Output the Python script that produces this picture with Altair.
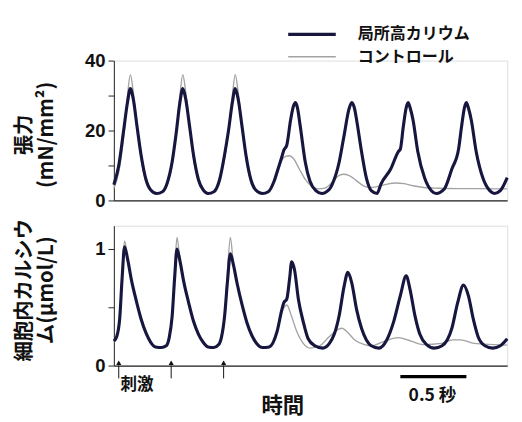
import altair as alt
import pandas as pd

SERIES = ["局所高カリウム", "コントロール"]
COLORS = ["#16163f", "#a3a3a3"]
WIDTHS = [3.2, 1.4]

# ---- tension (mN/mm^2) ----
ten_t_k = [0.000, 0.037, 0.074, 0.103, 0.125, 0.147, 0.176, 0.206, 0.243, 0.279, 0.324, 0.368,
           0.404, 0.441, 0.471, 0.500, 0.522, 0.544, 0.574, 0.603, 0.640, 0.676, 0.713, 0.757,
           0.801, 0.838, 0.868, 0.897, 0.919, 0.941, 0.971, 1.000, 1.037, 1.074, 1.125,
           1.169, 1.213, 1.243, 1.272, 1.287, 1.309, 1.338, 1.360, 1.375, 1.390, 1.412, 1.449, 1.485, 1.529, 1.574,
           1.632, 1.654, 1.706, 1.743, 1.779, 1.801, 1.824, 1.838, 1.875, 1.912, 1.949, 1.993,
           2.022, 2.096, 2.154, 2.169, 2.191, 2.213, 2.228, 2.243, 2.265, 2.301, 2.353, 2.404, 2.441,
           2.500, 2.559, 2.610, 2.632, 2.654, 2.669, 2.684, 2.706, 2.743, 2.794, 2.846, 2.882, 2.926, 2.978]
ten_k = [4.5, 10, 20, 28, 32, 29, 21, 13, 6, 3, 2, 2.5,
         5, 11, 19, 28, 32, 29, 21, 13, 6, 3, 2, 2.5,
         6, 13, 20, 28, 32, 29, 21, 13, 6, 3, 2,
         2.5, 5.5, 9, 12.5, 14.4, 15.8, 23, 27, 28, 26.5, 21, 11, 5.5, 2.8, 2,
         3.2, 4.7, 11, 18.6, 26, 28, 26, 23, 14, 6.4, 2.8, 2,
         4.7, 9, 14, 14.7, 21, 26.5, 28, 26.5, 23, 14, 6.4, 2.8, 2,
         3.2, 9, 14.7, 21, 26.5, 28, 26.5, 23, 14, 6.4, 2.8, 2, 2.8, 6.5]

ten_t_c = [0.000, 0.037, 0.074, 0.103, 0.125, 0.147, 0.176, 0.206, 0.243, 0.279, 0.324, 0.368,
           0.404, 0.441, 0.471, 0.500, 0.522, 0.544, 0.574, 0.603, 0.640, 0.676, 0.713, 0.757,
           0.801, 0.838, 0.868, 0.897, 0.919, 0.941, 0.971, 1.000, 1.037, 1.074, 1.125,
           1.169, 1.213, 1.243, 1.272, 1.301, 1.331, 1.360, 1.404, 1.449, 1.500, 1.551,
           1.603, 1.654, 1.699, 1.735, 1.779, 1.838, 1.890, 1.934, 1.985, 2.059, 2.132,
           2.199, 2.265, 2.346, 2.456, 2.603, 2.750, 2.978]
ten_c = [3.5, 8, 18, 30, 36, 31, 21, 12, 5.5, 3, 2, 2.5,
         4.5, 10, 19, 30, 36, 31, 21, 12, 5.5, 3, 2, 2.5,
         5.5, 12, 20, 30, 36, 31, 21, 12, 5.5, 3, 2,
         2.5, 5.5, 8.5, 11.5, 12.6, 12.8, 12, 9, 6, 4, 3.3,
         3.6, 5.2, 7, 7.5, 7.2, 5.6, 4.2, 3.7, 3.9, 4.6, 5,
         4.8, 4.2, 3.7, 3.5, 3.4, 3.4, 3.3]

# ---- intracellular calcium (umol/L) ----
ca_t_k = [0.000, 0.022, 0.044, 0.0625, 0.081, 0.103, 0.132, 0.169, 0.206, 0.243, 0.279, 0.316, 0.360,
          0.397, 0.419, 0.441, 0.460, 0.478, 0.500, 0.529, 0.566, 0.603, 0.640, 0.676, 0.713, 0.757,
          0.794, 0.816, 0.838, 0.860, 0.882, 0.904, 0.934, 0.971, 1.007, 1.044, 1.081, 1.125,
          1.176, 1.235, 1.272, 1.287, 1.309, 1.331, 1.346, 1.368, 1.397, 1.434, 1.471, 1.522, 1.581,
          1.632, 1.669, 1.706, 1.743, 1.772, 1.801, 1.838, 1.875, 1.912, 1.949, 2.007,
          2.066, 2.118, 2.169, 2.213, 2.243, 2.279, 2.316, 2.368, 2.426,
          2.485, 2.559, 2.603, 2.647, 2.684, 2.721, 2.757, 2.809, 2.868, 2.926, 2.978]
ca_k = [0.21, 0.25, 0.40, 0.75, 1.02, 0.92, 0.74, 0.56, 0.40, 0.28, 0.20, 0.16, 0.155,
        0.17, 0.24, 0.42, 0.75, 1.00, 0.90, 0.72, 0.54, 0.38, 0.27, 0.20, 0.16, 0.155,
        0.18, 0.25, 0.42, 0.72, 0.96, 0.87, 0.70, 0.52, 0.37, 0.26, 0.19, 0.155,
        0.16, 0.29, 0.48, 0.54, 0.57, 0.75, 0.89, 0.82, 0.57, 0.375, 0.23, 0.17, 0.15,
        0.19, 0.27, 0.43, 0.68, 0.80, 0.71, 0.48, 0.32, 0.22, 0.17, 0.15,
        0.22, 0.375, 0.60, 0.77, 0.65, 0.43, 0.27, 0.18, 0.15,
        0.17, 0.32, 0.54, 0.69, 0.60, 0.40, 0.25, 0.17, 0.15, 0.17, 0.23]

ca_t_c = [0.000, 0.022, 0.044, 0.0625, 0.081, 0.103, 0.132, 0.169, 0.206, 0.243, 0.279, 0.316, 0.360,
          0.397, 0.419, 0.441, 0.460, 0.478, 0.500, 0.529, 0.566, 0.603, 0.640, 0.676, 0.713, 0.757,
          0.794, 0.816, 0.838, 0.860, 0.882, 0.904, 0.934, 0.971, 1.007, 1.044, 1.081, 1.125,
          1.176, 1.235, 1.272, 1.309, 1.346, 1.382, 1.434, 1.485, 1.559,
          1.632, 1.699, 1.728, 1.765, 1.824, 1.897, 1.949, 2.051, 2.154, 2.250, 2.346,
          2.478, 2.566, 2.625, 2.728, 2.875, 2.978]
ca_c = [0.20, 0.24, 0.40, 0.78, 1.07, 0.93, 0.74, 0.56, 0.40, 0.28, 0.20, 0.16, 0.155,
        0.17, 0.24, 0.42, 0.80, 1.10, 0.91, 0.72, 0.54, 0.38, 0.27, 0.20, 0.16, 0.155,
        0.18, 0.25, 0.42, 0.80, 1.10, 0.88, 0.70, 0.52, 0.37, 0.26, 0.19, 0.155,
        0.16, 0.29, 0.46, 0.52, 0.42, 0.30, 0.19, 0.15, 0.17,
        0.25, 0.31, 0.32, 0.29, 0.22, 0.18, 0.17, 0.21, 0.24, 0.21, 0.18,
        0.19, 0.22, 0.22, 0.19, 0.18, 0.175]

# ---- annotations ----
stim_times = [0.037, 0.434, 0.831]
stim_label = "刺激"
scale_bar = [2.169, 2.669]
scale_label = "0.5 秒"
time_label = "時間"

X_DOMAIN = [0, 2.978]
W, H = 405, 144

def frame(ts, vs, name):
    return pd.DataFrame({"t": ts, "v": vs, "s": name})

ten_df = pd.concat([frame(ten_t_c, ten_c, SERIES[1]), frame(ten_t_k, ten_k, SERIES[0])])
ca_df = pd.concat([frame(ca_t_c, ca_c, SERIES[1]), frame(ca_t_k, ca_k, SERIES[0])])

xenc = alt.X("t:Q", scale=alt.Scale(domain=X_DOMAIN, nice=False, zero=False),
             axis=alt.Axis(title=None, labels=False, ticks=False, grid=False,
                           domainColor="#222", domainWidth=1.3))

legend_opts = dict(title=None, orient="none", legendX=192, legendY=-39,
                   symbolType="M-2.45,0H2.45", symbolSize=400,
                   labelFont="Noto Sans CJK JP", labelFontSize=16.5,
                   labelFontWeight="bold", labelColor="#111",
                   labelOffset=35, rowPadding=3)
color = alt.Color("s:N", scale=alt.Scale(domain=SERIES, range=COLORS),
                  legend=alt.Legend(**legend_opts))
swidth = alt.StrokeWidth("s:N", scale=alt.Scale(domain=SERIES, range=WIDTHS),
                         legend=alt.Legend(**legend_opts))

yaxis_common = dict(grid=False, tickSize=6, labelFont="Liberation Sans", labelFontSize=19,
                    labelFontWeight="bold", labelColor="#111", labelPadding=3,
                    domainColor="#222", tickColor="#222",
                    titleFont="Noto Sans CJK JP", titleFontSize=21, titleFontWeight="bold",
                    titleColor="#111", titleAngle=-90, titleAlign="center",
                    titleBaseline="bottom", titleLineHeight=23)

top = alt.Chart(ten_df).mark_line(interpolate="monotone").encode(
    x=xenc,
    y=alt.Y("v:Q", scale=alt.Scale(domain=[0, 40], nice=False),
            axis=alt.Axis(values=[0, 10, 20, 30, 40],
                          labelExpr="datum.value % 20 == 0 ? datum.label : ''",
                          title=["張力", "(mN/mm²)"], titleX=-82, titleY=76,
                          **yaxis_common)),
    color=color,
    strokeWidth=swidth,
).properties(width=W, height=H)

ca_lines = alt.Chart(ca_df).mark_line(interpolate="monotone").encode(
    x=xenc,
    y=alt.Y("v:Q", scale=alt.Scale(domain=[0, 1.2], nice=False),
            axis=alt.Axis(values=[0, 0.5, 1],
                          labelExpr="datum.value == 1 ? '1' : (datum.value == 0 ? '0' : '')",
                          title=["細胞内カルシウ", "ム(μmol/L)"], titleX=-82, titleY=66,
                          **yaxis_common)),
    color=color,
    strokeWidth=swidth,
)

stim_df = pd.DataFrame({"t": stim_times, "y1": [-0.11] * 3, "y2": [0.0] * 3, "yh": [0.025] * 3})
stim_rules = alt.Chart(stim_df).mark_rule(color="#111", strokeWidth=1).encode(
    x="t:Q", y="y1:Q", y2="y2:Q")
stim_heads = alt.Chart(stim_df).mark_point(shape="triangle-up", filled=True, color="#111",
                                           size=28, opacity=1).encode(x="t:Q", y="yh:Q")

stim_text_df = pd.DataFrame({"t": [0.051], "y": [-0.17], "label": [stim_label]})
stim_text = alt.Chart(stim_text_df).mark_text(align="left", baseline="middle",
                                              font="Noto Sans CJK JP", fontSize=17,
                                              fontWeight="bold", color="#111").encode(
    x="t:Q", y="y:Q", text="label:N")

bar_df = pd.DataFrame({"t": [scale_bar[0]], "t2": [scale_bar[1]], "y": [-0.095]})
bar = alt.Chart(bar_df).mark_rule(color="#000", strokeWidth=3.5).encode(
    x="t:Q", x2="t2:Q", y="y:Q")

bar_text_df = pd.DataFrame({"t": [2.412], "y": [-0.265], "label": [scale_label]})
bar_text = alt.Chart(bar_text_df).mark_text(align="center", baseline="middle",
                                            font="Noto Sans CJK JP", fontSize=18,
                                            fontWeight="bold", color="#111").encode(
    x="t:Q", y="y:Q", text="label:N")

time_df = pd.DataFrame({"t": [1.279], "y": [-0.35], "label": [time_label]})
time_text = alt.Chart(time_df).mark_text(align="center", baseline="middle",
                                         font="Noto Sans CJK JP", fontSize=22,
                                         fontWeight="bold", color="#111").encode(
    x="t:Q", y="y:Q", text="label:N")

bottom = alt.layer(ca_lines, stim_rules, stim_heads, stim_text, bar, bar_text, time_text
                   ).properties(width=W, height=H)

chart = alt.vconcat(top, bottom, spacing=26, bounds="flush").properties(
    padding={"left": 5, "top": 9, "right": 0, "bottom": 0}
).configure_view(stroke=None).configure(background="white")

chart.save("out.html", embed_options={"renderer": "svg", "actions": False})
